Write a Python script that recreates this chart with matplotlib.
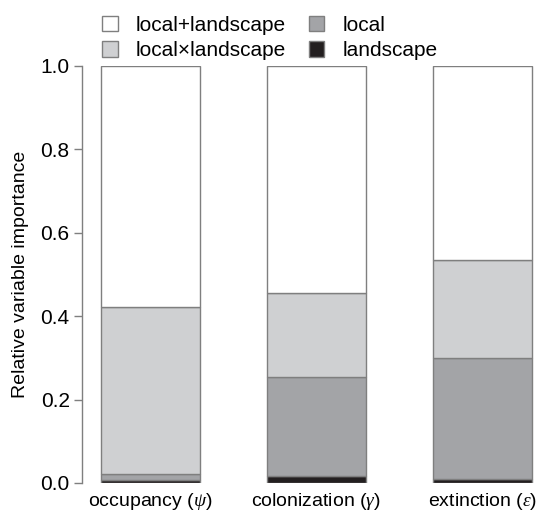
import matplotlib.pyplot as plt
from matplotlib.patches import Patch

plt.rcParams['font.family'] = ['Liberation Sans', 'DejaVu Sans']
plt.rcParams['mathtext.fontset'] = 'custom'
plt.rcParams['mathtext.rm'] = 'Liberation Sans'
plt.rcParams['mathtext.it'] = 'Liberation Serif:italic'

# relative importance of each predictor set, per model parameter
parameters = [r'occupancy ($\psi$)', r'colonization ($\gamma$)', r'extinction ($\varepsilon$)']
landscape = [0.006, 0.017, 0.010]
local = [0.016, 0.236, 0.290]
interaction = [0.400, 0.202, 0.234]
additive = [0.578, 0.545, 0.466]

COLORS = {
    "landscape": "#231f20",
    "local": "#a3a4a7",
    "interaction": "#cfd0d2",
    "additive": "#ffffff",
}
LABELS = {
    "additive": "local+landscape",
    "interaction": "local\u00d7landscape",
    "local": "local",
    "landscape": "landscape",
}
EDGE = "#7f7f7f"

fig = plt.figure(figsize=(5.41, 5.18), dpi=100)
ax = fig.add_axes([0.152, 0.0676, 0.838, 0.805])

x = range(len(parameters))
bottom = [0.0] * len(parameters)
for key, values in [("landscape", landscape), ("local", local),
                    ("interaction", interaction), ("additive", additive)]:
    ax.bar(x, values, width=0.593, bottom=bottom, color=COLORS[key],
           edgecolor=EDGE, linewidth=1.0)
    bottom = [b + v for b, v in zip(bottom, values)]

ax.set_xlim(-0.41, 2.32)
ax.set_ylim(0, 1.0)
ax.set_yticks([0.0, 0.2, 0.4, 0.6, 0.8, 1.0])
ax.set_yticklabels(["0.0", "0.2", "0.4", "0.6", "0.8", "1.0"], fontsize=15)
ax.set_xticks(list(x))
ax.set_xticklabels(parameters, fontsize=14)
ax.tick_params(axis='x', length=0, pad=6)
ax.tick_params(axis='y', length=6, width=1.0, color=EDGE, pad=3)
ax.set_ylabel("Relative variable importance", fontsize=14, labelpad=8)

for side in ["top", "right", "bottom"]:
    ax.spines[side].set_visible(False)
ax.spines["left"].set_color(EDGE)
ax.spines["left"].set_linewidth(1.0)

handles = [Patch(facecolor=COLORS[k], edgecolor=EDGE, linewidth=1.0, label=LABELS[k])
           for k in ["additive", "interaction", "local", "landscape"]]
fig.legend(handles=handles, ncol=2, loc='upper left',
           bbox_to_anchor=(0.166, 0.993), frameon=False, fontsize=15,
           handlelength=0.75, handleheight=0.75, handletextpad=0.85,
           columnspacing=1.1, labelspacing=0.3, borderaxespad=0.2)

fig.savefig("out.png", dpi=100)
